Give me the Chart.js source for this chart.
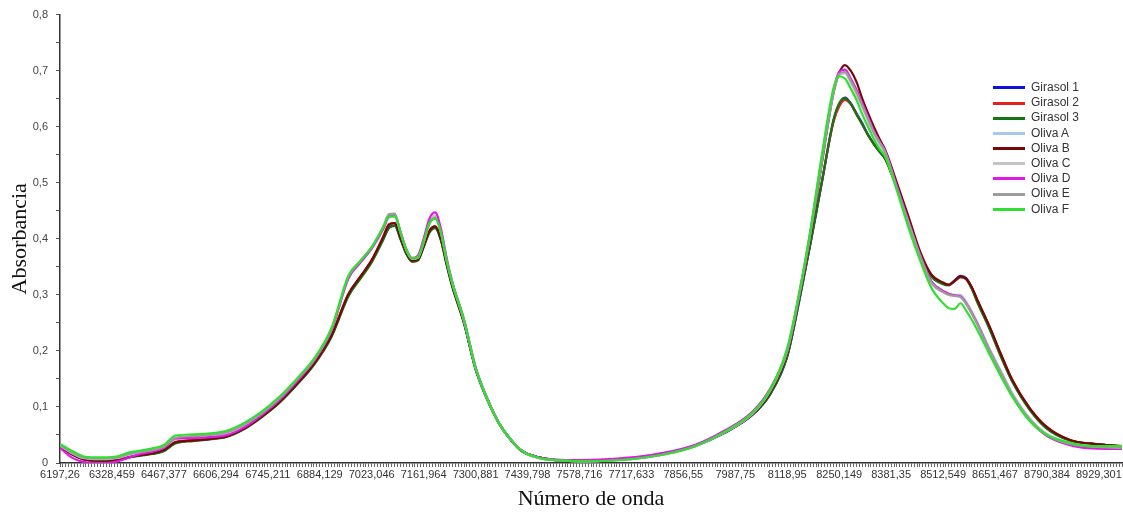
<!DOCTYPE html>
<html>
<head>
<meta charset="utf-8">
<script src="https://cdn.jsdelivr.net/npm/chart.js@4.4.1/dist/chart.umd.min.js"></script>
<style>
  body { margin: 0; background: #fff; }
  #wrap { position: relative; width: 1123px; height: 516px; }
  #legend { position: absolute; left: 993px; top: 80px; font: 12px "Liberation Sans", Arial, sans-serif; color: #333; }
  #legend div { height: 15.2px; line-height: 15.2px; white-space: nowrap; }
  #legend span { display: inline-block; width: 32px; height: 3px; vertical-align: middle; margin-right: 6px; }
</style>
</head>
<body>
<div id="wrap">
  <canvas id="chart" width="1123" height="516"></canvas>
  <div id="legend"></div>
</div>
<script>
// spectrum point number of each sample (18 points between labelled ticks)
const pointNo = [0,4,8,12,16,20,24,28,32,36, 40,46,52,58,64,70,76,82,88,94,
  100,104,108,112,114,116,118,120,122,124, 126,128,130,132,134,136,140,144,148,152,
  156,160,166,172,180,190,200,210,220,230, 240,246,252,256,260,264,268,270,272,274,
  276,278,280,282,284,286,290,294,298,302, 306,308,310,312,314,316,318,322,326,330,
  336,342,350,358,368];

const xTickLabels = ["6197,26","6328,459","6467,377","6606,294","6745,211","6884,129","7023,046",
  "7161,964","7300,881","7439,798","7578,716","7717,633","7856,55","7987,75","8118,95","8250,149",
  "8381,35","8512,549","8651,467","8790,384","8929,301"];
const yTickLabels = ["0","0,1","0,2","0,3","0,4","0,5","0,6","0,7","0,8"];

const seriesNames = ["Girasol 1","Girasol 2","Girasol 3","Oliva A","Oliva B","Oliva C","Oliva D","Oliva E","Oliva F"];
const seriesColors = ["#1010e0","#e8201c","#157515","#a8c8e8","#780808","#c4c4c4","#e418e4","#9c9c9c","#30e030"];

const girasol1 = [0.030,0.016,0.007,0.004,0.003,0.005,0.010,0.014,0.017,0.022,
  0.036,0.040,0.043,0.048,0.062,0.083,0.108,0.140,0.176,0.226,
  0.300,0.330,0.360,0.400,0.420,0.424,0.400,0.374,0.360,0.362,
  0.386,0.412,0.420,0.398,0.354,0.314,0.250,0.168,0.114,0.072,
  0.043,0.022,0.010,0.005,0.003,0.005,0.009,0.017,0.030,0.053,
  0.086,0.122,0.190,0.285,0.390,0.500,0.610,0.640,0.652,0.642,
  0.624,0.606,0.586,0.570,0.556,0.543,0.492,0.432,0.372,0.334,
  0.320,0.318,0.326,0.334,0.330,0.312,0.287,0.242,0.192,0.146,
  0.096,0.062,0.040,0.034,0.030];
const girasol2 = [0.031,0.017,0.008,0.005,0.004,0.006,0.012,0.015,0.018,0.024,
  0.038,0.041,0.044,0.049,0.063,0.084,0.110,0.142,0.178,0.228,
  0.302,0.332,0.362,0.404,0.426,0.428,0.402,0.376,0.361,0.363,
  0.388,0.414,0.422,0.400,0.356,0.316,0.251,0.169,0.115,0.072,
  0.043,0.022,0.010,0.005,0.003,0.005,0.009,0.017,0.031,0.054,
  0.087,0.124,0.192,0.288,0.392,0.502,0.608,0.636,0.648,0.640,
  0.622,0.604,0.585,0.569,0.555,0.542,0.490,0.430,0.372,0.333,
  0.321,0.318,0.324,0.331,0.328,0.312,0.288,0.244,0.194,0.148,
  0.098,0.064,0.041,0.034,0.030];
const girasol3 = [0.030,0.016,0.007,0.004,0.003,0.005,0.010,0.013,0.016,0.021,
  0.035,0.039,0.042,0.047,0.061,0.082,0.107,0.139,0.175,0.224,
  0.298,0.328,0.358,0.398,0.419,0.423,0.399,0.373,0.359,0.361,
  0.385,0.411,0.419,0.397,0.353,0.313,0.249,0.167,0.113,0.071,
  0.042,0.021,0.009,0.005,0.003,0.005,0.009,0.017,0.030,0.053,
  0.086,0.122,0.190,0.286,0.391,0.502,0.612,0.642,0.651,0.641,
  0.622,0.604,0.585,0.569,0.555,0.542,0.490,0.430,0.370,0.332,
  0.319,0.317,0.325,0.332,0.328,0.310,0.285,0.240,0.190,0.145,
  0.095,0.061,0.040,0.034,0.030];
const olivaA = [0.030,0.017,0.008,0.006,0.006,0.008,0.014,0.018,0.021,0.027,
  0.042,0.045,0.047,0.052,0.066,0.087,0.113,0.146,0.182,0.236,
  0.330,0.357,0.382,0.417,0.438,0.440,0.410,0.380,0.364,0.366,
  0.394,0.428,0.440,0.412,0.362,0.320,0.254,0.170,0.115,0.072,
  0.043,0.022,0.009,0.005,0.003,0.004,0.008,0.016,0.030,0.054,
  0.088,0.128,0.200,0.295,0.408,0.538,0.658,0.692,0.696,0.680,
  0.660,0.636,0.612,0.588,0.570,0.552,0.490,0.430,0.370,0.322,
  0.306,0.302,0.300,0.300,0.288,0.270,0.250,0.205,0.165,0.125,
  0.080,0.052,0.036,0.030,0.028];
const olivaB = [0.030,0.016,0.007,0.004,0.004,0.006,0.011,0.014,0.017,0.023,
  0.037,0.040,0.043,0.048,0.062,0.083,0.109,0.141,0.177,0.227,
  0.302,0.332,0.362,0.403,0.425,0.428,0.402,0.376,0.361,0.363,
  0.387,0.414,0.422,0.400,0.356,0.316,0.251,0.169,0.115,0.072,
  0.043,0.022,0.010,0.005,0.003,0.005,0.009,0.017,0.031,0.054,
  0.087,0.125,0.196,0.292,0.405,0.535,0.660,0.696,0.710,0.700,
  0.680,0.650,0.624,0.600,0.578,0.558,0.500,0.440,0.378,0.336,
  0.322,0.318,0.325,0.333,0.329,0.313,0.290,0.245,0.195,0.148,
  0.098,0.064,0.041,0.034,0.030];
const olivaC = [0.031,0.018,0.009,0.007,0.007,0.009,0.015,0.019,0.022,0.028,
  0.043,0.046,0.048,0.053,0.067,0.088,0.114,0.147,0.183,0.237,
  0.331,0.358,0.383,0.418,0.440,0.442,0.411,0.380,0.364,0.366,
  0.394,0.430,0.442,0.413,0.362,0.320,0.254,0.170,0.115,0.072,
  0.043,0.022,0.009,0.005,0.003,0.004,0.008,0.016,0.030,0.054,
  0.088,0.128,0.200,0.296,0.410,0.540,0.660,0.693,0.695,0.678,
  0.658,0.634,0.610,0.586,0.568,0.550,0.488,0.428,0.368,0.320,
  0.305,0.301,0.299,0.298,0.286,0.268,0.248,0.203,0.163,0.123,
  0.079,0.051,0.035,0.030,0.028];
const olivaD = [0.027,0.010,0.002,0.000,0.000,0.003,0.010,0.016,0.020,0.027,
  0.044,0.045,0.046,0.050,0.064,0.086,0.112,0.145,0.182,0.236,
  0.330,0.357,0.383,0.418,0.440,0.442,0.412,0.382,0.366,0.370,
  0.400,0.436,0.447,0.418,0.365,0.322,0.256,0.171,0.116,0.072,
  0.043,0.022,0.010,0.006,0.005,0.007,0.011,0.019,0.032,0.057,
  0.092,0.132,0.202,0.298,0.412,0.545,0.664,0.698,0.702,0.686,
  0.666,0.642,0.618,0.593,0.574,0.556,0.494,0.432,0.372,0.324,
  0.307,0.302,0.299,0.297,0.285,0.267,0.247,0.202,0.160,0.120,
  0.076,0.048,0.032,0.026,0.025];
const olivaE = [0.032,0.019,0.010,0.008,0.008,0.010,0.016,0.020,0.023,0.029,
  0.045,0.048,0.050,0.055,0.069,0.089,0.115,0.148,0.184,0.238,
  0.333,0.360,0.385,0.422,0.444,0.445,0.413,0.381,0.365,0.367,
  0.393,0.426,0.438,0.411,0.361,0.320,0.254,0.170,0.115,0.072,
  0.043,0.022,0.009,0.005,0.003,0.004,0.008,0.016,0.030,0.054,
  0.089,0.129,0.201,0.297,0.410,0.540,0.660,0.694,0.698,0.682,
  0.662,0.638,0.614,0.590,0.572,0.554,0.490,0.430,0.370,0.322,
  0.305,0.300,0.298,0.296,0.284,0.266,0.246,0.202,0.162,0.122,
  0.078,0.050,0.034,0.029,0.027];
const olivaF = [0.034,0.022,0.012,0.010,0.010,0.012,0.019,0.022,0.026,0.032,
  0.049,0.051,0.053,0.058,0.072,0.092,0.118,0.150,0.186,0.240,
  0.335,0.360,0.385,0.420,0.440,0.440,0.410,0.380,0.365,0.367,
  0.395,0.428,0.436,0.410,0.360,0.320,0.255,0.170,0.115,0.072,
  0.043,0.022,0.009,0.005,0.003,0.004,0.008,0.016,0.030,0.055,
  0.090,0.130,0.205,0.300,0.415,0.550,0.668,0.690,0.686,0.668,
  0.648,0.622,0.600,0.578,0.560,0.546,0.486,0.420,0.362,0.312,
  0.285,0.276,0.275,0.285,0.272,0.255,0.236,0.195,0.155,0.118,
  0.075,0.050,0.036,0.030,0.030];

const allSeries = [girasol1, girasol2, girasol3, olivaA, olivaB, olivaC, olivaD, olivaE, olivaF];

const datasets = allSeries.map((vals, i) => ({
  label: seriesNames[i],
  data: vals.map((v, k) => ({ x: pointNo[k], y: v })),
  borderColor: seriesColors[i],
  borderWidth: 2.2,
  pointRadius: 0,
  cubicInterpolationMode: "monotone",
  order: allSeries.length - i
}));

const ctx = document.getElementById("chart").getContext("2d");
new Chart(ctx, {
  type: "line",
  data: { datasets },
  options: {
    responsive: false,
    animation: false,
    devicePixelRatio: 1,
    layout: { padding: { top: 12, right: 0, left: 0, bottom: 0 } },
    plugins: { legend: { display: false }, tooltip: { enabled: false } },
    scales: {
      x: {
        type: "linear",
        min: 0,
        max: 368,
        afterBuildTicks: (scale) => {
          const t = [];
          for (let p = 0; p <= 368; p++) t.push({ value: p });
          scale.ticks = t;
        },
        afterFit: (scale) => { scale.height = 53; },
        ticks: {
          autoSkip: false,
          maxRotation: 0,
          padding: 1,
          color: "#333",
          font: { family: "Liberation Sans", size: 11 },
          callback: (v) => (v % 18 === 0 ? xTickLabels[v / 18] : "")
        },
        grid: { drawOnChartArea: false, tickLength: 4, color: "#666" },
        border: { color: "#333", width: 1.5 },
        title: {
          display: true,
          text: "Número de onda",
          color: "#111",
          font: { family: "Liberation Serif", size: 22 },
          padding: { top: 9 }
        }
      },
      y: {
        min: 0,
        max: 0.8,
        afterBuildTicks: (scale) => {
          const t = [];
          for (let k = 0; k <= 16; k++) t.push({ value: k * 0.05 });
          scale.ticks = t;
        },
        afterFit: (scale) => { scale.width = 60; },
        ticks: {
          autoSkip: false,
          padding: 8,
          color: "#444",
          font: { family: "Liberation Sans", size: 11 },
          callback: (v) => {
            const k = Math.round(v * 20);
            return k % 2 === 0 ? yTickLabels[k / 2] : "";
          }
        },
        grid: { drawOnChartArea: false, tickLength: 4, color: "#555" },
        border: { color: "#333", width: 1.5 },
        title: {
          display: true,
          text: "Absorbancia",
          color: "#111",
          font: { family: "Liberation Serif", size: 22 },
          padding: { top: 7, bottom: 0 }
        }
      }
    }
  }
});

// legend, same look as the original list in the upper right
const legend = document.getElementById("legend");
seriesNames.forEach((name, i) => {
  const row = document.createElement("div");
  const sw = document.createElement("span");
  sw.style.background = seriesColors[i];
  row.appendChild(sw);
  row.appendChild(document.createTextNode(name));
  legend.appendChild(row);
});
</script>
</body>
</html>
